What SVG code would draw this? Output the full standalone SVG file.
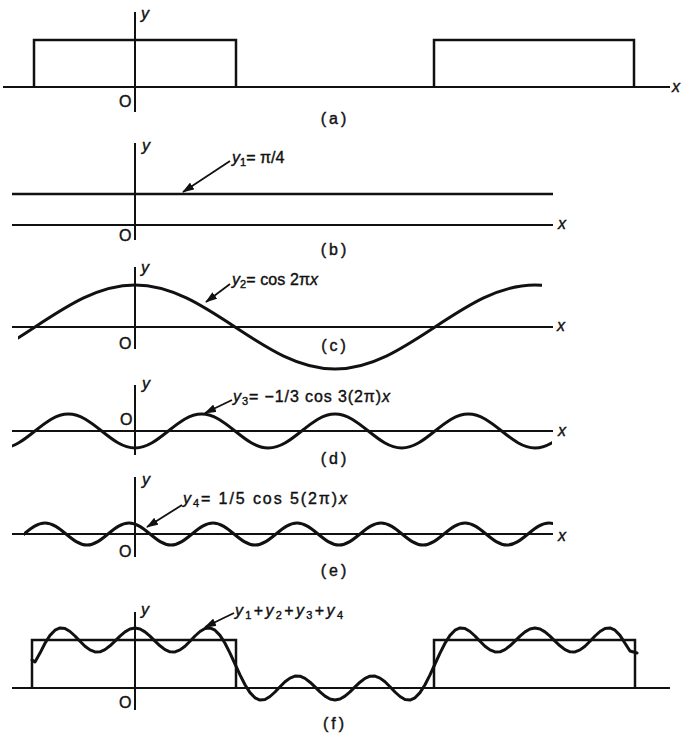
<svg xmlns="http://www.w3.org/2000/svg" width="700" height="739" viewBox="0 0 700 739">
<style>
.ax{stroke:#111;stroke-width:2;fill:none}
.cv{stroke:#111;stroke-width:3;fill:none;stroke-linejoin:round;stroke-linecap:round}
.pl{stroke:#111;stroke-width:2.5;fill:none}
.ar{stroke:#111;stroke-width:1.8;fill:none}
text{font-family:"Liberation Sans",Arial,sans-serif;fill:#111;stroke:#111;stroke-width:0.4}
.v{font-style:italic;font-size:16px}
.o{font-size:16px}
.cap{font-size:16px;letter-spacing:3px}
.lb{font-size:16px}
.sub{font-size:11px}
</style>
<defs>
<marker id="ah" markerUnits="userSpaceOnUse" markerWidth="12" markerHeight="8" refX="11" refY="4" orient="auto">
<path d="M0,0 L12,4 L0,8 z" fill="#111"/>
</marker>
<clipPath id="clipC"><rect x="18" y="250" width="524" height="140"/></clipPath>
<clipPath id="clipD"><rect x="12" y="400" width="540" height="60"/></clipPath>
<clipPath id="clipE"><rect x="24" y="510" width="529" height="50"/></clipPath>
</defs>
<rect width="700" height="739" fill="#fff"/>

<g id="panel-a">
<path class="ax" d="M3,87 H670 M135,12 V112"/>
<path class="pl" d="M34,87 V40 H236 V87 M434,87 V40 H634 V87"/>
<text class="v" x="141" y="19">y</text>
<text class="v" x="672" y="92">x</text>
<text class="o" x="119" y="107">O</text>
<text class="cap" x="335" y="124" text-anchor="middle">(a)</text>
</g>

<g id="panel-b">
<path class="ax" d="M12,225 H553 M135,143 V240"/>
<path class="pl" d="M12,194 H553"/>
<text class="v" x="142" y="151">y</text>
<text class="v" x="558" y="229">x</text>
<text class="o" x="119" y="241">O</text>
<text class="cap" x="335" y="255" text-anchor="middle">(b)</text>
<text class="lb" x="232" y="163"><tspan font-style="italic">y</tspan><tspan class="sub" dy="3">1</tspan><tspan dy="-3">= π/4</tspan></text>
</g>

<g id="panel-c">
<path class="ax" d="M12,327 H553 M135,267 V349"/>
<path class="cv" clip-path="url(#clipC)" d="M-65,369 C-28.8,369 2.4,348.5 35,327 S98.8,285 135,285 S202.4,305.5 235,327 S298.8,369 335,369 S402.4,348.5 435,327 S498.8,285 535,285 S602.4,305.5 635,327"/>
<text class="v" x="141" y="273">y</text>
<text class="v" x="557" y="331">x</text>
<text class="o" x="119" y="349">O</text>
<text class="cap" x="335" y="351" text-anchor="middle">(c)</text>
<text class="lb" x="232" y="285" textLength="86"><tspan font-style="italic">y</tspan><tspan class="sub" dy="3">2</tspan><tspan dy="-3">= cos 2π</tspan><tspan font-style="italic">x</tspan></text>
</g>

<g id="panel-d">
<path class="ax" d="M12,431 H553 M135,385 V455"/>
<path class="cv" clip-path="url(#clipD)" d="M1.67,448 C13.74,448 24.13,439.7 35,431 S56.26,414 68.33,414 S90.8,422.3 101.67,431 S122.93,448 135,448 S157.46,439.7 168.33,431 S189.6,414 201.67,414 S224.13,422.3 235,431 S256.26,448 268.33,448 S290.8,439.7 301.67,431 S322.93,414 335,414 S357.46,422.3 368.33,431 S389.6,448 401.67,448 S424.13,439.7 435,431 S456.26,414 468.33,414 S490.8,422.3 501.67,431 S522.93,448 535,448 S557.46,439.7 568.33,431"/>
<text class="v" x="142" y="389">y</text>
<text class="v" x="558" y="436">x</text>
<text class="o" x="120" y="425">O</text>
<text class="cap" x="335" y="464" text-anchor="middle">(d)</text>
<text class="lb" x="233" y="402" textLength="157"><tspan font-style="italic">y</tspan><tspan class="sub" dy="3">3</tspan><tspan dy="-3">= −1/3 cos 3(2π)</tspan><tspan font-style="italic">x</tspan></text>
</g>

<g id="panel-e">
<path class="ax" d="M12,534 H553 M135,477 V557"/>
<path class="cv" clip-path="url(#clipE)" d="M3,545 C10.6,545 17.15,539.63 24,534 S37.4,523 45,523 S59.15,528.37 66,534 S79.4,545 87,545 S101.15,539.63 108,534 S121.4,523 129,523 S143.15,528.37 150,534 S163.4,545 171,545 S185.15,539.63 192,534 S205.4,523 213,523 S227.15,528.37 234,534 S247.4,545 255,545 S269.15,539.63 276,534 S289.4,523 297,523 S311.15,528.37 318,534 S331.4,545 339,545 S353.15,539.63 360,534 S373.4,523 381,523 S395.15,528.37 402,534 S415.4,545 423,545 S437.15,539.63 444,534 S457.4,523 465,523 S479.15,528.37 486,534 S499.4,545 507,545 S521.15,539.63 528,534 S541.4,523 549,523 S563.15,528.37 570,534"/>
<text class="v" x="142" y="485">y</text>
<text class="v" x="558" y="541">x</text>
<text class="o" x="119" y="557">O</text>
<text class="cap" x="335" y="576" text-anchor="middle">(e)</text>
<text class="lb" x="183" y="504" textLength="164"><tspan font-style="italic">y</tspan><tspan class="sub" dy="3">4</tspan><tspan dy="-3">= 1/5 cos 5(2π)</tspan><tspan font-style="italic">x</tspan></text>
</g>

<g id="panel-f">
<path class="ax" d="M12,688 H670 M135,612 V710"/>
<path class="pl" d="M32,688 V640 H236 V688 M434,688 V640 H635 V688"/>
<polyline class="cv" points="32,660 35,662 40,653.1 45,643.2 50,635.4 55,630.2 60,627.9 65,628.5 70,631.5 75,636 80,641.3 85,646.2 90,649.9 95,651.9 100,651.8 105,649.6 110,645.8 115,641.1 120,636.1 125,631.9 130,629 135,628 140,629 145,631.9 150,636.1 155,641.1 160,645.8 165,649.6 170,651.8 175,651.9 180,649.9 185,646.2 190,641.3 195,636 200,631.5 205,628.5 210,627.9 215,630.2 220,635.4 225,643.2 230,653.1 235,664 240,674.9 245,684.8 250,692.6 255,697.8 260,700.1 265,699.5 270,696.5 275,692 280,686.7 285,681.8 290,678.1 295,676.1 300,676.2 305,678.4 310,682.2 315,686.9 320,691.9 325,696.1 330,699 335,700 340,699 345,696.1 350,691.9 355,686.9 360,682.2 365,678.4 370,676.2 375,676.1 380,678.1 385,681.8 390,686.7 395,692 400,696.5 405,699.5 410,700.1 415,697.8 420,692.6 425,684.8 430,674.9 435,664 440,653.1 445,643.2 450,635.4 455,630.2 460,627.9 465,628.5 470,631.5 475,636 480,641.3 485,646.2 490,649.9 495,651.9 500,651.8 505,649.6 510,645.8 515,641.1 520,636.1 525,631.9 530,629 535,628 540,629 545,631.9 550,636.1 555,641.1 560,645.8 565,649.6 570,651.8 575,651.9 580,649.9 585,646.2 590,641.3 595,636 600,631.5 605,628.5 610,627.9 615,630.2 620,635.4 625,643.2 630,651 637,653"/>
<text class="v" x="141" y="615">y</text>
<text class="o" x="119" y="708">O</text>
<text class="cap" x="335" y="729" text-anchor="middle">(f)</text>
<text class="lb" x="235" y="616" textLength="108"><tspan font-style="italic">y</tspan><tspan class="sub" dy="3">1</tspan><tspan dy="-3">+</tspan><tspan font-style="italic">y</tspan><tspan class="sub" dy="3">2</tspan><tspan dy="-3">+</tspan><tspan font-style="italic">y</tspan><tspan class="sub" dy="3">3</tspan><tspan dy="-3">+</tspan><tspan font-style="italic">y</tspan><tspan class="sub" dy="3">4</tspan></text>
</g>

<g id="connectors">
<path class="ar" marker-end="url(#ah)" d="M230,161 L183,192"/>
<path class="ar" marker-end="url(#ah)" d="M230,284 L206,302"/>
<path class="ar" marker-end="url(#ah)" d="M232,400 L205,413"/>
<path class="ar" marker-end="url(#ah)" d="M182,505 L147,527"/>
<path class="ar" marker-end="url(#ah)" d="M234,613 L205,627"/>
</g>
</svg>
